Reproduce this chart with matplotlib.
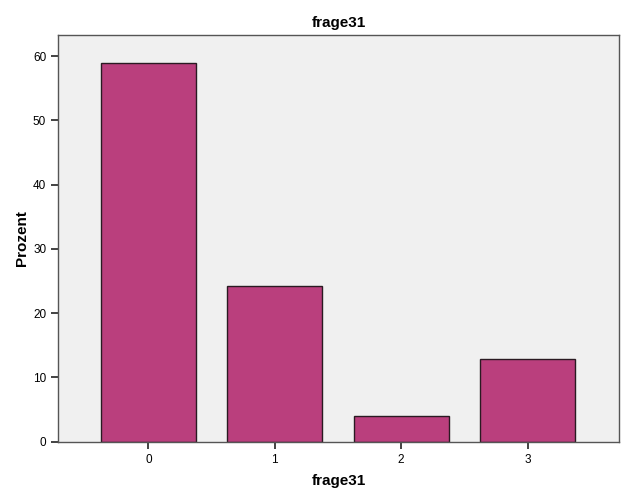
import matplotlib
matplotlib.use('Agg')
import matplotlib.pyplot as plt

# percent per answer category
categories = ['0', '1', '2', '3']
percent = [58.9, 24.2, 4.0, 12.9]

plt.rcParams['font.family'] = ['Liberation Sans', 'DejaVu Sans']

fig = plt.figure(figsize=(6.26, 5.01), dpi=100)
ax = fig.add_axes([58/626, 1 - 441.7/501, (619 - 58)/626, (441.7 - 35)/501])
ax.set_facecolor('#f0f0f0')

x = range(len(categories))
ax.bar(x, percent, width=0.752, color='#ba3f7d', edgecolor='#2a1a22', linewidth=1.0, zorder=2)

ax.set_xlim(-0.716, 3.724)
ax.set_ylim(0, 63.3)
ax.set_xticks(list(x))
ax.set_xticklabels(categories)
ax.set_yticks(range(0, 61, 10))

ax.tick_params(axis='both', labelsize=8.5, length=5, width=1.2, color='#222222', direction='out')
for s in ax.spines.values():
    s.set_color('#555555')
    s.set_linewidth(1.0)

ax.set_title('frage31', fontsize=11, fontweight='bold', pad=6)
ax.set_ylabel('Prozent', fontsize=11, fontweight='bold', labelpad=3)
ax.set_xlabel('frage31', fontsize=11, fontweight='bold', labelpad=6)

fig.savefig('out.png', dpi=100)
